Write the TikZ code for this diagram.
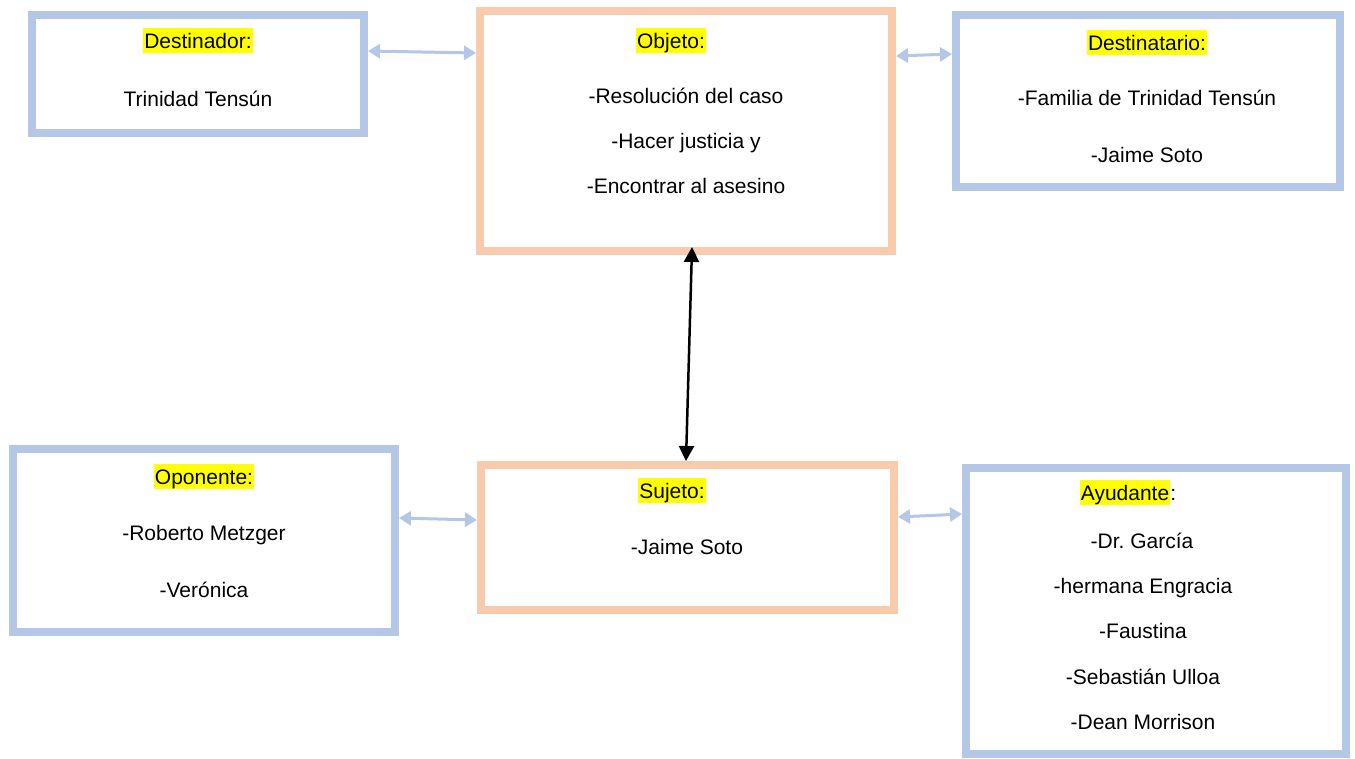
\documentclass[tikz,border=0pt]{standalone}
\usepackage{fontspec}
\setmainfont{Liberation Sans}
\usetikzlibrary{arrows.meta}
\definecolor{boxblue}{HTML}{B4C7E7}
\definecolor{boxorange}{HTML}{F8CBAD}
\definecolor{hlyellow}{HTML}{FFFF00}
\newcommand{\hlyel}[1]{{\setlength{\fboxsep}{0pt}\colorbox{hlyellow}{\rule[-5pt]{0pt}{25pt}\kern1pt#1\kern1pt}}}
\frenchspacing
\begin{document}
\begin{tikzpicture}[x=1pt,y=-1pt,
  font=\fontsize{21}{25}\selectfont,
  bluebox/.style={draw=boxblue,line width=8pt,rectangle,inner sep=0pt},
  orangebox/.style={draw=boxorange,line width=8pt,rectangle,inner sep=0pt},
  txt/.style={anchor=base,inner sep=0pt,text=black},
  bluearrow/.style={draw=boxblue,line width=3pt,{Triangle[length=12pt,width=14pt]}-{Triangle[length=12pt,width=14pt]}},
  blackarrow/.style={draw=black,line width=2.5pt,{Triangle[length=15pt,width=15pt]}-{Triangle[length=15pt,width=15pt]}}]
\useasboundingbox (0,0) rectangle (1355,758);
\fill[white] (0,0) rectangle (1355,758);

% boxes
\node[bluebox,minimum width=332pt,minimum height=118pt] (destr) at (198,73.5) {};
\node[orangebox,minimum width=412pt,minimum height=240pt] (obj) at (686,131) {};
\node[bluebox,minimum width=383.5pt,minimum height=172pt] (desta) at (1147.75,101) {};
\node[bluebox,minimum width=382.5pt,minimum height=183pt] (opp) at (203.75,540.5) {};
\node[orangebox,minimum width=413pt,minimum height=145pt] (suj) at (687.5,537.5) {};
\node[bluebox,minimum width=380pt,minimum height=286pt] (ayu) at (1156,611) {};

% texts: Destinador
\node[txt] (t1a) at (198,48) {\hlyel{Destinador:}};
\node[txt] (t1b) at (198,106) {Trinidad Tensún};
% Objeto
\node[txt] (t2a) at (671,48) {\hlyel{Objeto:}};
\node[txt] (t2b) at (686,103) {-Resolución del caso};
\node[txt] (t2c) at (686,148) {-Hacer justicia y};
\node[txt] (t2d) at (686,193) {-Encontrar al asesino};
% Destinatario
\node[txt] (t3a) at (1147,50) {\hlyel{Destinatario:}};
\node[txt] (t3b) at (1147,105) {-Familia de Trinidad Tensún};
\node[txt] (t3c) at (1147,162) {-Jaime Soto};
% Oponente
\node[txt] (t4a) at (204,484) {\hlyel{Oponente:}};
\node[txt] (t4b) at (204,540) {-Roberto Metzger};
\node[txt] (t4c) at (204,597) {-Verónica};
% Sujeto
\node[txt] (t5a) at (672,498) {\hlyel{Sujeto:}};
\node[txt] (t5b) at (687,554) {-Jaime Soto};
% Ayudante
\node[txt] (t6a) at (1128,500) {\hlyel{Ayudante}:};
\node[txt] (t6b) at (1142,548) {-Dr. García};
\node[txt] (t6c) at (1143,593) {-hermana Engracia};
\node[txt] (t6d) at (1143,638) {-Faustina};
\node[txt] (t6e) at (1143,684) {-Sebastián Ulloa};
\node[txt] (t6f) at (1143,729) {-Dean Morrison};

% connectors
\draw[bluearrow] ([yshift=22.5pt]destr.east) -- ([yshift=78pt]obj.west);
\draw[bluearrow] ([yshift=75pt]obj.east) -- ([yshift=47pt]desta.west);
\draw[bluearrow] ([yshift=22.5pt]opp.east) -- ([yshift=17.5pt]suj.west);
\draw[bluearrow] ([yshift=20.5pt]suj.east) -- ([yshift=97pt]ayu.west);
\draw[blackarrow] ([xshift=-1.5pt]suj.north) -- ([xshift=6pt,yshift=8pt]obj.south);
\end{tikzpicture}
\end{document}
